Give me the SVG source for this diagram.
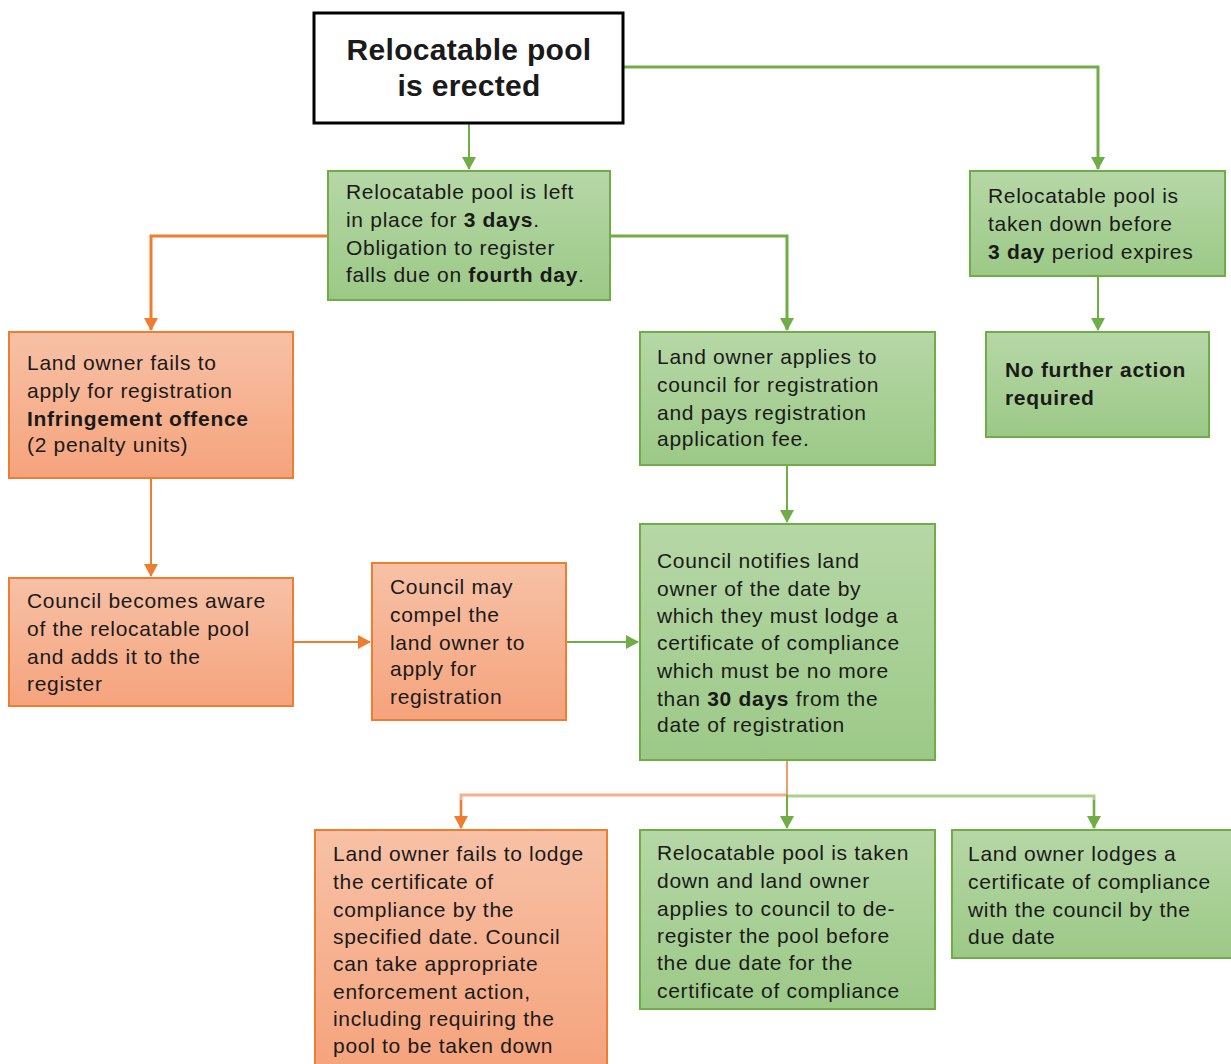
<svg xmlns="http://www.w3.org/2000/svg" width="1231" height="1064" viewBox="0 0 1231 1064">
<defs>
<linearGradient id="gg" x1="0" y1="0" x2="0" y2="1"><stop offset="0" stop-color="#b6d7a6"/><stop offset="1" stop-color="#9cc987"/></linearGradient>
<linearGradient id="og" x1="0" y1="0" x2="0" y2="1"><stop offset="0" stop-color="#f7c1a6"/><stop offset="1" stop-color="#f5a37c"/></linearGradient>
<marker id="ag" markerUnits="userSpaceOnUse" markerWidth="14" markerHeight="14" refX="12" refY="7" orient="auto"><path d="M0,0 L13,7 L0,14 Z" fill="#70ad47"/></marker>
<marker id="ao" markerUnits="userSpaceOnUse" markerWidth="14" markerHeight="14" refX="12" refY="7" orient="auto"><path d="M0,0 L13,7 L0,14 Z" fill="#ed7d31"/></marker>
</defs>
<style>
text{font-family:"Liberation Sans",Arial,sans-serif;font-size:21px;letter-spacing:0.7px;fill:#1a1a1a}
.b{font-weight:bold}
.ti{font-size:30px;letter-spacing:0.3px}
.g{fill:url(#gg);stroke:#70ad47;stroke-width:2}
.o{fill:url(#og);stroke:#ed7d31;stroke-width:2}
.lg{fill:none;stroke:#70ad47;stroke-width:2}
.lo{fill:none;stroke:#ed7d31;stroke-width:2}
.t{stroke-width:3}
</style>
<rect width="1231" height="1064" fill="#ffffff"/>
<g id="connectors">
<path class="lg" d="M469,123 V169" marker-end="url(#ag)"/>
<path class="lg t" d="M623,67 H1098 V169" marker-end="url(#ag)"/>
<path class="lo t" d="M328,236 H151 V330" marker-end="url(#ao)"/>
<path class="lg t" d="M610,236 H787 V330" marker-end="url(#ag)"/>
<path class="lg" d="M1098,276 V330" marker-end="url(#ag)"/>
<path class="lg" d="M787,465 V522" marker-end="url(#ag)"/>
<path class="lo" d="M151,478 V576" marker-end="url(#ao)"/>
<path class="lo" d="M293,642 H370" marker-end="url(#ao)"/>
<path class="lg" d="M566,642 H638" marker-end="url(#ag)"/>
<path d="M787,795 H461 V828" fill="none" stroke="#f4b08a" stroke-width="3"/>
<path class="lo" d="M461,800 V828" marker-end="url(#ao)"/>
<path d="M787,796 H1094 V828" fill="none" stroke="#a9d18e" stroke-width="3"/>
<path class="lg" d="M1094,800 V828" marker-end="url(#ag)"/>
<path d="M787,760 V795" fill="none" stroke="#ed7d31" stroke-width="1.5"/>
<path class="lg" d="M787,795 V828" marker-end="url(#ag)"/>
</g>
<g id="erected">
<rect x="314" y="13" width="309" height="110" fill="#ffffff" stroke="#000000" stroke-width="3"/>
<text x="469" y="60" text-anchor="middle" class="b ti">Relocatable pool</text>
<text x="469" y="96" text-anchor="middle" class="b ti">is erected</text>
</g>
<g id="left-in-place">
<rect class="g" x="328" y="171" width="282" height="129"/>
<text x="346" y="199">Relocatable pool is left</text>
<text x="346" y="227">in place for <tspan class="b">3 days</tspan>.</text>
<text x="346" y="255">Obligation to register</text>
<text x="346" y="282">falls due on <tspan class="b">fourth day</tspan>.</text>
</g>
<g id="taken-down-before">
<rect class="g" x="970" y="171" width="255" height="105"/>
<text x="988" y="203">Relocatable pool is</text>
<text x="988" y="231">taken down before</text>
<text x="988" y="259"><tspan class="b">3 day</tspan> period expires</text>
</g>
<g id="no-further">
<rect class="g" x="986" y="332" width="223" height="105"/>
<text x="1005" y="377" class="b">No further action</text>
<text x="1005" y="405" class="b">required</text>
</g>
<g id="applies">
<rect class="g" x="640" y="332" width="295" height="133"/>
<text x="657" y="364">Land owner applies to</text>
<text x="657" y="392">council for registration</text>
<text x="657" y="420">and pays registration</text>
<text x="657" y="446">application fee.</text>
</g>
<g id="fails-apply">
<rect class="o" x="9" y="332" width="284" height="146"/>
<text x="27" y="370">Land owner fails to</text>
<text x="27" y="398">apply for registration</text>
<text x="27" y="426" class="b">Infringement offence</text>
<text x="27" y="452">(2 penalty units)</text>
</g>
<g id="becomes-aware">
<rect class="o" x="9" y="578" width="284" height="128"/>
<text x="27" y="608">Council becomes aware</text>
<text x="27" y="636">of the relocatable pool</text>
<text x="27" y="664">and adds it to the</text>
<text x="27" y="691">register</text>
</g>
<g id="compel">
<rect class="o" x="372" y="563" width="194" height="157"/>
<text x="390" y="594">Council may</text>
<text x="390" y="622">compel the</text>
<text x="390" y="650">land owner to</text>
<text x="390" y="676">apply for</text>
<text x="390" y="704">registration</text>
</g>
<g id="notifies">
<rect class="g" x="640" y="524" width="295" height="236"/>
<text x="657" y="568">Council notifies land</text>
<text x="657" y="596">owner of the date by</text>
<text x="657" y="623">which they must lodge a</text>
<text x="657" y="650">certificate of compliance</text>
<text x="657" y="678">which must be no more</text>
<text x="657" y="706">than <tspan class="b">30 days</tspan> from the</text>
<text x="657" y="732">date of registration</text>
</g>
<g id="fails-lodge">
<rect class="o" x="315" y="830" width="292" height="240"/>
<text x="333" y="861">Land owner fails to lodge</text>
<text x="333" y="889">the certificate of</text>
<text x="333" y="917">compliance by the</text>
<text x="333" y="944">specified date. Council</text>
<text x="333" y="971">can take appropriate</text>
<text x="333" y="999">enforcement action,</text>
<text x="333" y="1026">including requiring the</text>
<text x="333" y="1053">pool to be taken down</text>
</g>
<g id="deregister">
<rect class="g" x="640" y="830" width="295" height="179"/>
<text x="657" y="860">Relocatable pool is taken</text>
<text x="657" y="888">down and land owner</text>
<text x="657" y="916">applies to council to de-</text>
<text x="657" y="943">register the pool before</text>
<text x="657" y="970">the due date for the</text>
<text x="657" y="998">certificate of compliance</text>
</g>
<g id="lodges">
<rect class="g" x="952" y="830" width="285" height="128"/>
<text x="968" y="861">Land owner lodges a</text>
<text x="968" y="889">certificate of compliance</text>
<text x="968" y="917">with the council by the</text>
<text x="968" y="944">due date</text>
</g>
</svg>
